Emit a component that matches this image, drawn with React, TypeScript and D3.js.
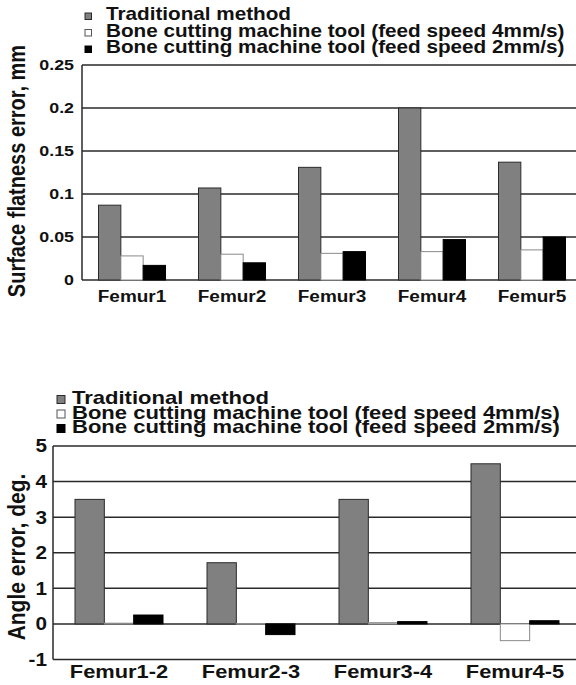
import React from "react";
import * as d3 from "d3";

const seriesNames = [
  "Traditional method",
  "Bone cutting machine tool (feed speed 4mm/s)",
  "Bone cutting machine tool (feed speed 2mm/s)",
];
const seriesKeys = ["trad", "feed4", "feed2"];

const flatCats = ["Femur1", "Femur2", "Femur3", "Femur4", "Femur5"];
const flatTrad = [0.087, 0.107, 0.131, 0.2, 0.137];
const flatFeed4 = [0.028, 0.03, 0.031, 0.033, 0.035];
const flatFeed2 = [0.017, 0.02, 0.033, 0.047, 0.05];
const flatTicks = [0, 0.05, 0.1, 0.15, 0.2, 0.25];
const flatTickLabels = ["0", "0.05", "0.1", "0.15", "0.2", "0.25"];

const angleCats = ["Femur1-2", "Femur2-3", "Femur3-4", "Femur4-5"];
const angleTrad = [3.5, 1.72, 3.5, 4.5];
const angleFeed4 = [0.02, 0.01, 0.035, -0.47];
const angleFeed2 = [0.25, -0.3, 0.065, 0.09];
const angleTicks = [-1, 0, 1, 2, 3, 4, 5];
const angleTickLabels = ["-1", "0", "1", "2", "3", "4", "5"];

const fills = ["#808080", "#ffffff", "#000000"];
const strokes = ["#2a2a2a", "#8a8a8a", "#000000"];
const FONT = "'Liberation Sans', Arial, Helvetica, sans-serif";
const SX = 1.15;

function Txt({ x, y, size, anchor = "start", sx = SX, baseline = "auto", rotate = false, children }: any) {
  const tr = rotate
    ? `translate(${x},${y}) rotate(-90) scale(1,${sx})`
    : `translate(${x},${y}) scale(${sx},1)`;
  return (
    <text
      transform={tr}
      fontFamily={FONT}
      fontWeight="bold"
      fontSize={size}
      textAnchor={anchor}
      dominantBaseline={baseline}
      fill="#111"
    >
      {children}
    </text>
  );
}

function Legend({ x, sq, textX, baselines, size, sx }: any) {
  return (
    <g>
      {seriesNames.map((n, i) => (
        <g key={n}>
          <rect
            x={x}
            y={baselines[i] - sq - 0.5}
            width={sq}
            height={sq}
            fill={fills[i]}
            stroke={strokes[i] === "#8a8a8a" ? "#555" : strokes[i]}
            strokeWidth={1}
          />
          <Txt x={textX} y={baselines[i]} size={size} sx={sx}>
            {n}
          </Txt>
        </g>
      ))}
    </g>
  );
}

function BarChart({
  cats, values, ticks, tickLabels, x0, x1, yTop, yBot, domain,
  padInner, padOuter, tickSize, tickRight, catSize, catBaseline,
  title, titleX, titleY, titleSize, zeroVal,
}: any) {
  const x = d3.scaleBand<string>().domain(cats).range([x0, x1]).paddingInner(padInner).paddingOuter(padOuter);
  const xs = d3.scaleBand<string>().domain(seriesKeys).range([0, x.bandwidth()]);
  const y = d3.scaleLinear().domain(domain).range([yBot, yTop]);
  const plotStep = (x1 - x0) / cats.length;
  return (
    <g>
      {ticks.map((t: number) => (
        <line key={t} x1={x0} x2={x1} y1={y(t)} y2={y(t)} stroke="#2a2a2a" strokeWidth={1.5} />
      ))}
      <line x1={x0} x2={x0} y1={y(domain[0])} y2={y(domain[1])} stroke="#2a2a2a" strokeWidth={1.5} />
      {cats.map((c: string, ci: number) =>
        seriesKeys.map((k, si) => {
          const v = values[si][ci];
          const y0 = y(zeroVal);
          const yv = y(v);
          return (
            <rect
              key={c + k}
              x={(x(c) as number) + (xs(k) as number)}
              y={Math.min(y0, yv)}
              width={xs.bandwidth()}
              height={Math.max(0.5, Math.abs(y0 - yv))}
              fill={fills[si]}
              stroke={strokes[si]}
              strokeWidth={1}
            />
          );
        })
      )}
      {ticks.map((t: number, i: number) => (
        <Txt key={"l" + t} x={tickRight} y={y(t)} size={tickSize} anchor="end" baseline="central">
          {tickLabels[i]}
        </Txt>
      ))}
      {cats.map((c: string) => (
        <Txt key={"c" + c} x={(x0 + (cats.indexOf(c) + 0.5) * plotStep)} y={catBaseline} size={catSize} anchor="middle">
          {c}
        </Txt>
      ))}
      <Txt x={titleX} y={titleY} size={titleSize} anchor="middle" baseline="central" rotate>
        {title}
      </Txt>
    </g>
  );
}

export default function App() {
  return (
    <svg
      width={576}
      height={685}
      viewBox="0 0 576 685"
      style={{ position: "absolute", left: 0, top: 0, background: "#fff" }}
    >
      <rect width={576} height={685} fill="#fff" />
      <Legend x={85} sq={6.5} textX={106} baselines={[20, 36.5, 53]} size={18} sx={1.15} />
      <BarChart
        cats={flatCats}
        values={[flatTrad, flatFeed4, flatFeed2]}
        ticks={flatTicks}
        tickLabels={flatTickLabels}
        x0={82}
        x1={582}
        yTop={65}
        yBot={280}
        domain={[0, 0.25]}
        padInner={0.33}
        padOuter={0.165}
        tickSize={15.5}
        tickRight={74}
        catSize={16.5}
        catBaseline={301.5}
        title="Surface flatness error, mm"
        titleX={17}
        titleY={171}
        titleSize={20}
        zeroVal={0}
      />
      <Legend x={57} sq={8} textX={72} baselines={[404, 418.5, 433]} size={18.5} sx={1.19} />
      <BarChart
        cats={angleCats}
        values={[angleTrad, angleFeed4, angleFeed2]}
        ticks={angleTicks}
        tickLabels={angleTickLabels}
        x0={53}
        x1={581}
        yTop={446}
        yBot={659.5}
        domain={[-1, 5]}
        padInner={0.3333}
        padOuter={0.1667}
        tickSize={18}
        tickRight={47}
        catSize={19}
        catBaseline={678}
        title="Angle error, deg."
        titleX={17}
        titleY={557}
        titleSize={21}
        zeroVal={0}
      />
    </svg>
  );
}
